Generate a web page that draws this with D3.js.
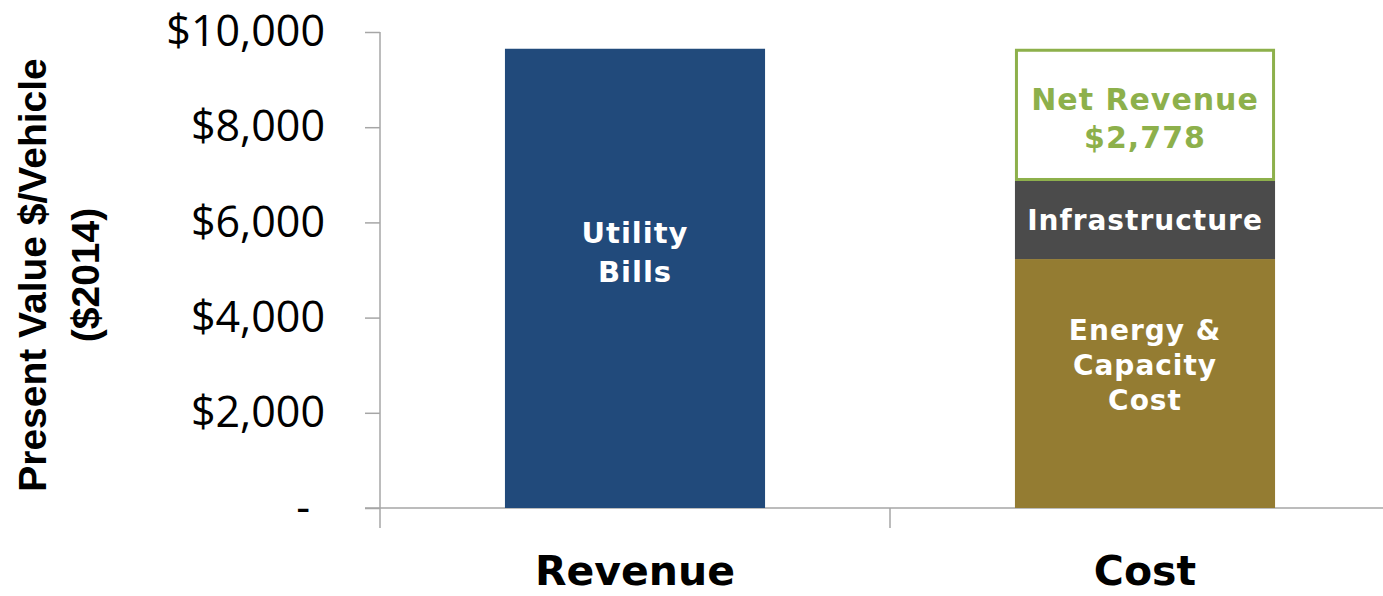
<!DOCTYPE html>
<html>
<head>
<meta charset="utf-8">
<script src="https://cdn.jsdelivr.net/npm/d3@7"></script>
<style>
  body { margin: 0; background: #fff; }
  svg { display: block; }
</style>
</head>
<body>
<div id="chart"></div>
<script>
// categories and values
const categories = ["Revenue", "Cost"]
const revenueValues = [9648]              // Utility Bills
const costSegments = ["Energy & Capacity Cost", "Infrastructure", "Net Revenue"]
const costValues = [5230, 1640, 2778]
const yTicks = [0, 2000, 4000, 6000, 8000, 10000]

const width = 1383, height = 596
const x0 = 380, x1 = 1400, yBottom = 508, yTop = 32

const svg = d3.select("#chart").append("svg")
    .attr("width", width)
    .attr("height", height)

const x = d3.scaleBand()
    .domain(categories)
    .range([x0, x1])
    .paddingInner(0.49)
    .paddingOuter(0.245)

const y = d3.scaleLinear()
    .domain([0, 10000])
    .range([yBottom, yTop])

const axisColor = "#a6a6a6"

// y axis
const yAxis = svg.append("g")
    .attr("transform", `translate(${x0},0)`)
    .call(d3.axisLeft(y).tickValues(yTicks).tickSize(15).tickPadding(40)
        .tickFormat(d => d === 0 ? "-" : "$" + d3.format(",")(d)))
yAxis.select(".domain").remove()
yAxis.selectAll(".tick line").attr("stroke", axisColor).attr("stroke-width", 1.5)
yAxis.selectAll(".tick text")
    .attr("fill", "#000")
    .style("font", "43px 'Open Sans', sans-serif")
    .attr("dx", d => d === 0 ? -15 : 0)

svg.append("line")
    .attr("x1", x0).attr("x2", x0)
    .attr("y1", yTop).attr("y2", yBottom + 20)
    .attr("stroke", axisColor).attr("stroke-width", 1.5)

// x baseline with category dividers
svg.append("line")
    .attr("x1", x0 - 15).attr("x2", width)
    .attr("y1", yBottom).attr("y2", yBottom)
    .attr("stroke", axisColor).attr("stroke-width", 1.5)

const step = x.step()
svg.append("g").selectAll("line")
    .data(categories.map((c, i) => x0 + step * (i + 1)))
    .join("line")
    .attr("x1", d => d).attr("x2", d => d)
    .attr("y1", yBottom).attr("y2", yBottom + 20)
    .attr("stroke", axisColor).attr("stroke-width", 1.5)

svg.append("g").selectAll("text")
    .data(categories)
    .join("text")
    .attr("x", d => x(d) + x.bandwidth() / 2)
    .attr("y", 585)
    .attr("text-anchor", "middle")
    .style("font", "bold 41px 'DejaVu Sans', sans-serif")
    .text(d => d)

// y title
const title = svg.append("text")
    .attr("transform", "translate(46,275) rotate(-90)")
    .attr("text-anchor", "middle")
    .style("font", "bold 39px 'Liberation Sans', sans-serif")
title.append("tspan").attr("x", 0).attr("y", 0).text("Present Value $/Vehicle")
title.append("tspan").attr("x", 0).attr("y", 53).text("($2014)")

// revenue bar
svg.append("rect")
    .attr("x", x("Revenue"))
    .attr("width", x.bandwidth())
    .attr("y", y(revenueValues[0]))
    .attr("height", y(0) - y(revenueValues[0]))
    .attr("fill", "#214a7b")

// stacked cost bar
const stack = costValues.map((v, i) => {
    const start = d3.sum(costValues.slice(0, i))
    return { name: costSegments[i], y0: start, y1: start + v, value: v }
})
const fills = ["#947c32", "#4b4b4b", "#fff"]

const cx = x("Cost"), bw = x.bandwidth()
svg.append("g").selectAll("rect")
    .data(stack)
    .join("rect")
    .attr("x", (d, i) => i === 2 ? cx + 1.5 : cx)
    .attr("width", (d, i) => i === 2 ? bw - 3 : bw)
    .attr("y", (d, i) => i === 2 ? y(d.y1) + 1.5 : y(d.y1))
    .attr("height", (d, i) => i === 2 ? y(d.y0) - y(d.y1) - 3 : y(d.y0) - y(d.y1))
    .attr("fill", (d, i) => fills[i])
    .attr("stroke", (d, i) => i === 2 ? "#8db04b" : null)
    .attr("stroke-width", 3)

// bar labels
function multiLabel(cxPos, cyPos, lines, color, lh, size) {
    const t = svg.append("text")
        .attr("text-anchor", "middle")
        .attr("fill", color)
        .style("font", `bold ${size}px 'DejaVu Sans', sans-serif`)
        .style("letter-spacing", "1px")
    lines.forEach((l, i) => {
        t.append("tspan")
            .attr("x", cxPos)
            .attr("y", cyPos + (i - (lines.length - 1) / 2) * lh)
            .attr("dy", "0.35em")
            .text(l)
    })
}

multiLabel(x("Revenue") + bw / 2, 252, ["Utility", "Bills"], "#fff", 39, 29)
multiLabel(cx + bw / 2, (y(stack[0].y0) + y(stack[0].y1)) / 2 - 18, ["Energy &", "Capacity", "Cost"], "#fff", 35, 28)
multiLabel(cx + bw / 2, (y(stack[1].y0) + y(stack[1].y1)) / 2, ["Infrastructure"], "#fff", 35, 28)
multiLabel(cx + bw / 2, (y(stack[2].y0) + y(stack[2].y1)) / 2 + 4,
    ["Net Revenue", "$" + d3.format(",")(costValues[2])], "#8db04b", 38, 30)
</script>
</body>
</html>
